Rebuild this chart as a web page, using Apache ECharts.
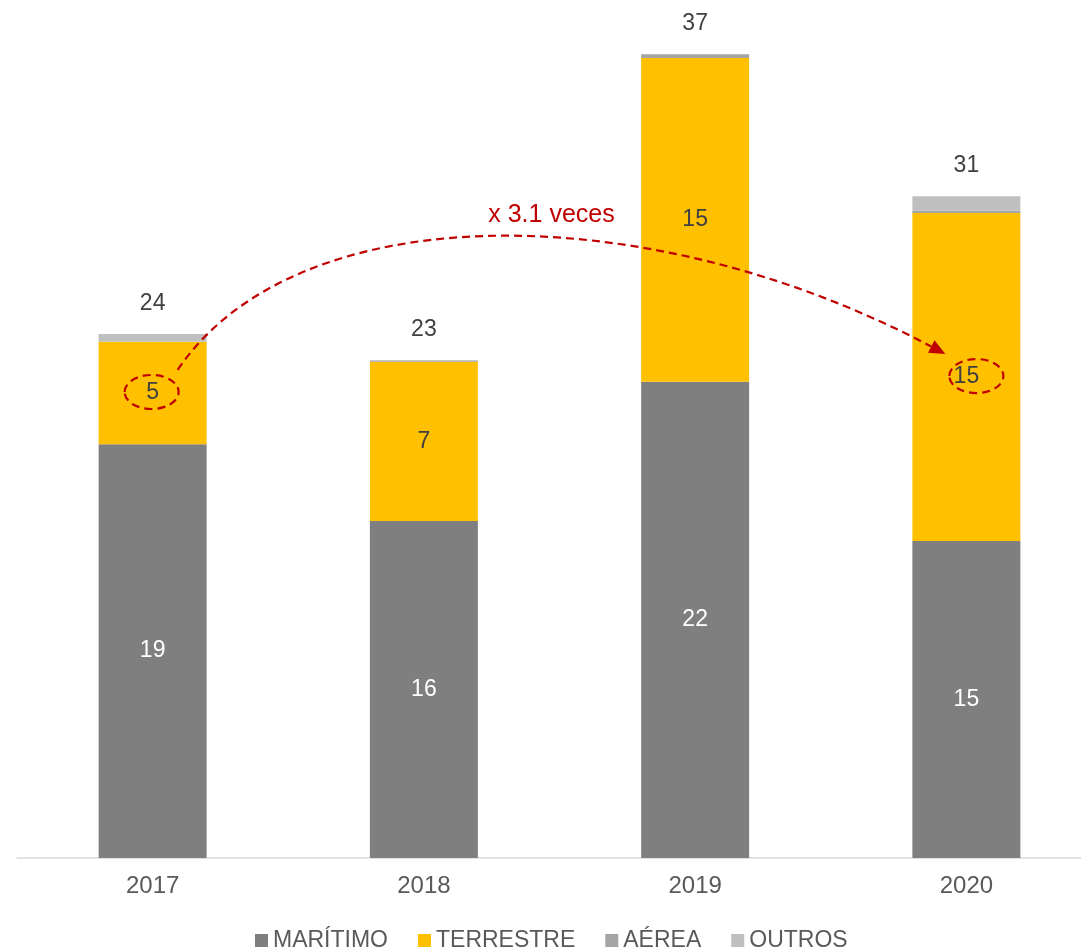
<!DOCTYPE html>
<html>
<head>
<meta charset="utf-8">
<style>
  html, body { margin: 0; padding: 0; background: #ffffff; overflow: hidden; }
  #chart { width: 1102px; height: 950px; }
</style>
<script src="https://cdn.jsdelivr.net/npm/echarts@6/dist/echarts.min.js"></script>
</head>
<body>
<div id="chart"></div>
<script>
// Years on the category axis
const years = ['2017', '2018', '2019', '2020'];

// Volume by transport mode
const maritimo  = [19.08, 15.54, 21.96, 14.62];
const terrestre = [4.73, 7.35, 14.93, 15.12];
const aerea     = [0, 0.04, 0.18, 0.12];
const outros    = [0.35, 0.04, 0, 0.66];

const seriesNames = ['MARÍTIMO', 'TERRESTRE', 'AÉREA', 'OUTROS'];
const growthNote = 'x 3.1 veces';

const totals = years.map((_, i) => maritimo[i] + terrestre[i] + aerea[i] + outros[i]);

const FONT = '"Liberation Sans", Arial, sans-serif';
const RED = '#c00000';

const chart = echarts.init(document.getElementById('chart'), null, { renderer: 'canvas' });

function segLabel(color) {
  return {
    show: true,
    position: 'inside',
    color: color,
    fontFamily: FONT,
    fontSize: 23,
    formatter: p => Math.round(p.value)
  };
}

chart.setOption({
  animation: false,
  backgroundColor: '#ffffff',
  grid: { left: 17, right: 0, top: 34, bottom: 92, containLabel: false },
  xAxis: {
    type: 'category',
    data: years,
    axisLine: { lineStyle: { color: '#d9d9d9', width: 1.5 } },
    axisTick: { show: false },
    axisLabel: { color: '#595959', fontFamily: FONT, fontSize: 24, margin: 16 }
  },
  yAxis: {
    type: 'value',
    min: 0,
    max: 38,
    show: false,
    splitLine: { show: false }
  },
  legend: {
    data: seriesNames,
    left: 250,
    top: 924,
    itemWidth: 13,
    itemHeight: 13,
    itemGap: 30,
    icon: 'rect',
    textStyle: { color: '#595959', fontFamily: FONT, fontSize: 23 }
  },
  series: [
    {
      name: seriesNames[0], type: 'bar', stack: 'total', barWidth: 108,
      itemStyle: { color: '#7f7f7f' },
      label: segLabel('#ffffff'),
      data: maritimo
    },
    {
      name: seriesNames[1], type: 'bar', stack: 'total', barWidth: 108,
      itemStyle: { color: '#ffc000' },
      label: segLabel('#404040'),
      data: terrestre
    },
    {
      name: seriesNames[2], type: 'bar', stack: 'total', barWidth: 108,
      itemStyle: { color: '#a5a5a5' },
      data: aerea
    },
    {
      name: seriesNames[3], type: 'bar', stack: 'total', barWidth: 108,
      itemStyle: { color: '#bfbfbf' },
      label: {
        show: true,
        position: 'top',
        distance: 19,
        color: '#404040',
        fontFamily: FONT,
        fontSize: 23,
        formatter: p => Math.round(totals[p.dataIndex])
      },
      data: outros
    }
  ]
});

// Growth annotation: dashed ellipses around the TERRESTRE values of 2017 and 2020,
// joined by a dashed arrow, anchored on the data through the grid's scales.
function drawAnnotation() {
  const mid = i => maritimo[i] + terrestre[i] / 2;
  const a = chart.convertToPixel({ gridIndex: 0 }, [years[0], mid(0)]);
  const b = chart.convertToPixel({ gridIndex: 0 }, [years[3], mid(3)]);
  const e1 = [a[0] - 1, a[1] - 1];
  const e2 = [b[0] + 10, b[1] - 1];

  const S = [e1[0] + 26, e1[1] - 22];
  const E = [e2[0] - 31, e2[1] - 22];
  const cp1 = [S[0] + 118, S[1] - 175];
  const cp2 = [E[0] - 300, E[1] - 159];

  // arrow head oriented along the curve's end tangent
  const dx = E[0] - cp2[0], dy = E[1] - cp2[1];
  const len = Math.hypot(dx, dy);
  const ux = dx / len, uy = dy / len;
  const headLen = 16, headHalf = 7;
  const base = [E[0] - ux * headLen, E[1] - uy * headLen];
  const head = [
    [E[0], E[1]],
    [base[0] - uy * headHalf, base[1] + ux * headHalf],
    [base[0] + uy * headHalf, base[1] - ux * headHalf]
  ];

  const dashStyle = { stroke: RED, lineWidth: 2.2, lineDash: [8, 5], fill: null };

  chart.setOption({
    graphic: [
      { type: 'ellipse', shape: { cx: e1[0], cy: e1[1], rx: 27, ry: 17 }, style: dashStyle, z: 100 },
      { type: 'ellipse', shape: { cx: e2[0], cy: e2[1], rx: 27, ry: 17 }, style: dashStyle, z: 100 },
      {
        type: 'bezierCurve',
        shape: {
          x1: S[0], y1: S[1],
          cpx1: cp1[0], cpy1: cp1[1],
          cpx2: cp2[0], cpy2: cp2[1],
          x2: base[0], y2: base[1]
        },
        style: dashStyle,
        z: 100
      },
      { type: 'polygon', shape: { points: head }, style: { fill: RED, stroke: null }, z: 101 },
      {
        type: 'text',
        x: (S[0] + E[0]) / 2 - 10,
        y: S[1] - 155,
        style: {
          text: growthNote,
          fill: RED,
          font: '25px ' + FONT,
          textAlign: 'center',
          textVerticalAlign: 'middle'
        },
        z: 100
      }
    ]
  });
}

drawAnnotation();
</script>
</body>
</html>
